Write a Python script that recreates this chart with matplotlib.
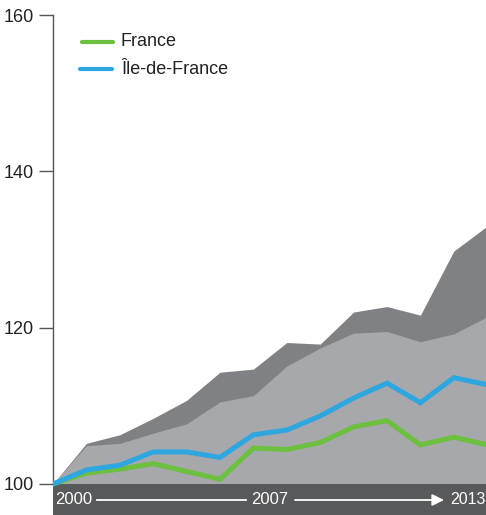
import numpy as np
import matplotlib
matplotlib.use("Agg")
import matplotlib.pyplot as plt

plt.rcParams['font.family'] = ['Liberation Sans', 'DejaVu Sans']

years = list(range(2000, 2014))
# upper (dark) and lower (light) grey bands
dark_top = [100, 105.2, 106.3, 108.4, 110.7, 114.3, 114.7, 118.1, 117.9, 122.0, 122.7, 121.6, 129.8, 133.0]
light_top = [100, 104.9, 105.2, 106.5, 107.7, 110.5, 111.3, 115.1, 117.4, 119.3, 119.5, 118.2, 119.2, 121.4]
idf = [100, 101.8, 102.4, 104.1, 104.1, 103.4, 106.3, 106.9, 108.7, 111.0, 112.9, 110.4, 113.6, 112.7]
france = [100, 101.4, 101.9, 102.6, 101.6, 100.6, 104.6, 104.4, 105.3, 107.3, 108.1, 105.0, 106.0, 105.0]
yticks = [100, 120, 140, 160]

c_dark = '#808184'
c_light = '#a7a8ab'
c_bar = '#58595b'
c_green = '#6cbf3f'
c_blue = '#2ea6df'

W, H = 486, 515
fig = plt.figure(figsize=(W / 100, H / 100), dpi=100)
ax = fig.add_axes([53 / W, 0, 1 - 53 / W, 1 - 15 / H])

px_per_year = 33.4
px_per_unit = 469 / 60
ymin = 100 - 31 / px_per_unit
ax.set_xlim(2000, 2000 + (W - 53) / px_per_year)
ax.set_ylim(ymin, 160)

ax.fill_between(years, 100, dark_top, color=c_dark, lw=0)
ax.fill_between(years, 100, light_top, color=c_light, lw=0)
ax.plot(years, france, color=c_green, lw=3.6, solid_joinstyle='miter', zorder=3)
ax.plot(years, idf, color=c_blue, lw=3.6, solid_joinstyle='miter', zorder=4)

# bottom band with the timeline
ax.axhspan(ymin, 100, color=c_bar, lw=0, zorder=2)

def px2x(p):
    return 2000 + (p - 53) / px_per_year

ty = 100 - 16 / px_per_unit
ax.text(px2x(55), ty, '2000', color='white', fontsize=12, ha='left', va='center', zorder=5)
ax.text(px2x(270), ty, '2007', color='white', fontsize=12, ha='center', va='center', zorder=5)
ax.text(px2x(450), ty, '2013', color='white', fontsize=11.5, ha='left', va='center', zorder=5)
ax.plot([px2x(97), px2x(246)], [ty, ty], color='white', lw=1.3, zorder=5)
ax.annotate('', xy=(px2x(444), ty), xytext=(px2x(295), ty),
            arrowprops=dict(arrowstyle='-|>,head_length=0.7,head_width=0.35', color='white', lw=1.3, shrinkA=0, shrinkB=0),
            zorder=5)

for s in ['top', 'right', 'bottom']:
    ax.spines[s].set_visible(False)
ax.spines['left'].set_bounds(100, 160)
ax.spines['left'].set_color('#555555')
ax.spines['left'].set_linewidth(1)
ax.set_xticks([])
ax.set_yticks(yticks)
ax.tick_params(axis='y', length=10, width=1, color='#555555', labelsize=13, pad=4, labelcolor='#222222')

# legend
ax.plot([px2x(82), px2x(113)], [160 - 27 / px_per_unit] * 2, color=c_green, lw=3, solid_capstyle='round')
ax.plot([px2x(80), px2x(112)], [160 - 54 / px_per_unit] * 2, color=c_blue, lw=3, solid_capstyle='round')
ax.text(px2x(121), 160 - 27 / px_per_unit, 'France', fontsize=13, va='center', ha='left', color='#222222')
ax.text(px2x(121), 160 - 54 / px_per_unit, 'Île-de-France', fontsize=13, va='center', ha='left', color='#222222')

fig.savefig('out.png', dpi=100)
